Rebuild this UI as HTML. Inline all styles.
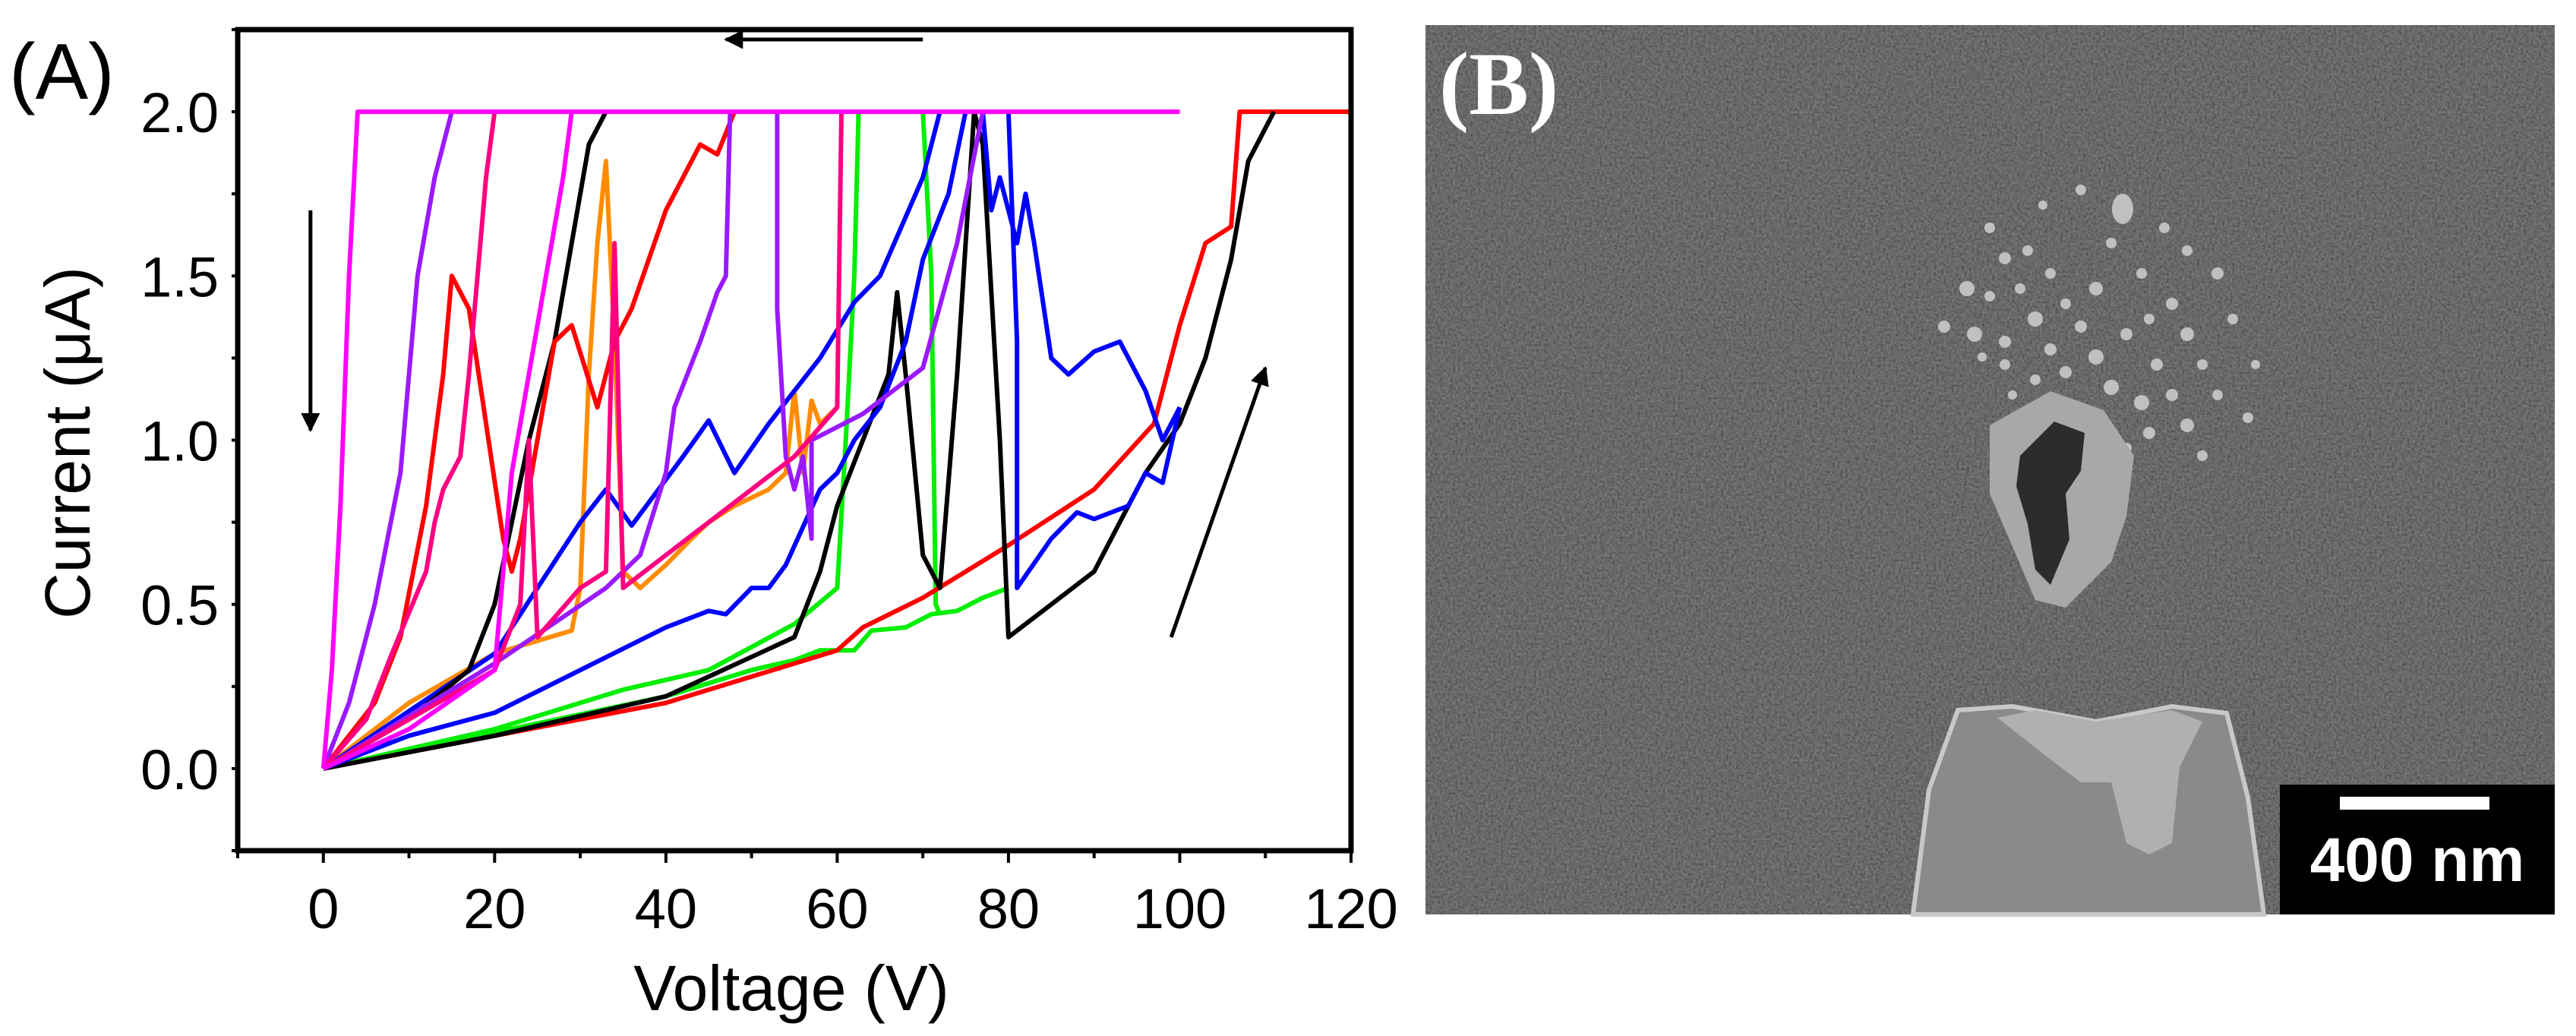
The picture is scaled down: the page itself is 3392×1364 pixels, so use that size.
<!DOCTYPE html>
<html><head><meta charset="utf-8"><style>
html,body{margin:0;padding:0;background:#fff;}
svg{display:block;}
text{font-family:"Liberation Sans",sans-serif;}
</style></head><body>
<svg id="fig" width="3392" height="1364" viewBox="0 0 3392 1364" xmlns="http://www.w3.org/2000/svg">
<defs>
<filter id="noise" x="0" y="0" width="100%" height="100%">
<feTurbulence type="fractalNoise" baseFrequency="0.3" numOctaves="2" seed="3" result="t"/>
<feColorMatrix in="t" type="matrix" values="0.7 0 0 0 0  0.7 0 0 0 0  0.7 0 0 0 0  0 0 0 0 0.45"/>
</filter>
<marker id="ah" viewBox="0 0 10 10" refX="9" refY="5" markerWidth="5" markerHeight="5" orient="auto"><path d="M0,0L10,5L0,10z" fill="#000"/></marker>
</defs>
<g id="panelA">
<text x="12" y="130" font-size="104">(A)</text>
<g id="plot"></g>
<g id="axes"></g>
<text x="1042" y="1330" font-size="84" text-anchor="middle">Voltage (V)</text>
<text transform="translate(118,583) rotate(-90)" font-size="84" text-anchor="middle">Current (μA)</text>
</g>
<g id="panelB">
<rect x="1877" y="33" width="1487" height="1171" fill="#3c3c3c"/>
<rect x="1877" y="33" width="1487" height="1171" fill="#fff" filter="url(#noise)"/>
<g id="dots"></g>
<path d="M2620,560 L2700,515 L2770,540 L2810,600 L2800,680 L2780,740 L2720,800 L2680,790 L2650,720 L2620,650 Z" fill="#a8a8a8"/>
<path d="M2660,600 L2705,555 L2745,570 L2740,620 L2720,650 L2725,710 L2700,770 L2680,750 L2670,690 L2655,640 Z" fill="#2c2c2c"/>
<path d="M2519,1204 L2540,1040 L2578,935 L2650,930 L2760,950 L2860,930 L2932,939 L2960,1050 L2981,1204 Z" fill="#8a8a8a" stroke="#c8c8c8" stroke-width="6"/>
<path d="M2630,945 L2700,1000 L2740,1030 L2780,1030 L2800,1110 L2830,1125 L2860,1110 L2870,1010 L2900,950 L2860,935 L2760,950 L2680,935 Z" fill="#b0b0b0"/>
<text x="1895" y="150" font-size="118" font-weight="bold" fill="#fff" style="font-family:'Liberation Serif',serif">(B)</text>
<rect x="3002" y="1033" width="362" height="171" fill="#000"/>
<rect x="3081" y="1049" width="197" height="17" fill="#fff"/>
<text x="3183" y="1160" font-size="82" font-weight="bold" fill="#fff" text-anchor="middle">400 nm</text>
</g>
</svg>
<script>
const xTicks=[0,20,40,60,80,100,120];
const yTicks=[0.0,0.5,1.0,1.5,2.0];
const yTickLabels=["0.0","0.5","1.0","1.5","2.0"];
const colors=["#ff00ff","#9a1aff","#ff0080","#ff0000","#000000","#0000ff","#00ee00","#ff8c00"];
const sMagenta=[[0,0],[1,0.3],[2,0.8],[3,1.5],[4,2.0],[100,2.0]];
const sPurple1=[[0,0],[3,0.2],[6,0.5],[9,0.9],[11,1.5],[13,1.8],[15,2.0]];
const sPurple2=[[0,0],[20,0.32],[33,0.55],[37,0.65],[40,0.9],[41,1.1],[44,1.3],[46,1.45],[47,1.5],[47.5,2.0]];
const sPurple3=[[53,2.0],[53,1.4],[54,0.95],[55,0.85],[56,0.95],[57,0.7],[57,1.0],[63,1.08],[70,1.22],[74,1.6],[77,2.0]];
const sMagenta2=[[0,0],[10,0.12],[20,0.3],[22,0.9],[24,1.2],[26,1.5],[28,1.8],[29,2.0]];
const sPink1=[[0,0],[5,0.15],[8,0.35],[12,0.6],[13,0.75],[14,0.85],[16,0.95],[17,1.2],[18,1.5],[19,1.8],[20,2.0]];
const sPink2=[[0,0],[20,0.3],[23,0.5],[24,1.0],[25,0.4],[30,0.55],[33,0.6],[34,1.6],[35,0.55],[45,0.75],[55,0.95],[60,1.1],[60.5,2.0]];
const sRed1=[[0,0],[6,0.2],[9,0.4],[12,0.8],[14,1.2],[15,1.5],[17,1.4],[21,0.7],[22,0.6],[23,0.7],[27,1.3],[29,1.35],[32,1.1],[34,1.3],[36,1.4],[40,1.7],[44,1.9],[46,1.87],[48,2.0]];
const sRed2=[[0,0],[20,0.1],[40,0.2],[60,0.36],[63,0.43],[70,0.52],[80,0.68],[90,0.85],[97,1.05],[100,1.35],[103,1.6],[106,1.65],[107,2.0],[120,2.0]];
const sBlack1=[[0,0],[10,0.15],[17,0.3],[20,0.5],[22,0.75],[24,1.0],[27,1.3],[29,1.6],[31,1.9],[33,2.0]];
const sBlack2=[[0,0],[20,0.1],[40,0.22],[55,0.4],[58,0.6],[60,0.8],[63,1.0],[66,1.2],[67,1.45],[68,1.2],[70,0.65],[72,0.55],[74,1.2],[76,2.0],[77,1.9],[79,1.0],[80,0.4],[85,0.5],[90,0.6],[93,0.75],[96,0.9],[100,1.05],[103,1.25],[106,1.55],[108,1.85],[111,2.0]];
const sBlue1=[[0,0],[10,0.1],[20,0.17],[30,0.3],[40,0.43],[45,0.48],[47,0.47],[50,0.55],[52,0.55],[54,0.62],[58,0.85],[60,0.9],[62,1.0],[65,1.1],[68,1.3],[70,1.55],[73,1.75],[75,2.0]];
const sBlue2=[[0,0],[20,0.35],[30,0.75],[33,0.85],[36,0.74],[42,0.95],[45,1.06],[48,0.9],[52,1.05],[58,1.25],[62,1.42],[65,1.5],[70,1.8],[72,2.0]];
const sBlue3=[[77,2.0],[78,1.7],[79,1.8],[81,1.6],[82,1.75],[83,1.6],[85,1.25],[87,1.2],[90,1.27],[93,1.3],[96,1.15],[98,1.0],[100,1.1]];
const sBlue4=[[80,2.0],[81,1.3],[81,0.55],[85,0.7],[88,0.78],[90,0.76],[94,0.8],[96,0.9],[98,0.87],[100,1.1]];
const sGreen1=[[0,0],[20,0.12],[35,0.24],[45,0.3],[55,0.44],[60,0.55],[61,1.0],[62,1.5],[62.5,2.0]];
const sGreen2=[[0,0],[40,0.22],[45,0.26],[50,0.3],[55,0.33],[58,0.36],[62,0.36],[64,0.42],[68,0.43],[71,0.47],[74,0.48],[77,0.52],[80,0.55]];
const sGreen3=[[70,2.0],[71,1.5],[71.5,0.5],[72,0.47]];
const sOrange=[[0,0],[10,0.2],[20,0.35],[29,0.42],[30,0.55],[31,1.2],[32,1.6],[33,1.85],[34,1.3],[35,0.6],[37,0.55],[40,0.62],[43,0.7],[45,0.75],[48,0.8],[52,0.85],[54,0.9],[55,1.15],[56,0.9],[57,1.12],[58,1.05],[60,1.1]];
const series=[[sOrange,7],[sGreen2,6],[sGreen1,6],[sGreen3,6],[sRed2,3],[sBlack2,4],[sBlue1,5],[sBlue2,5],[sBlue3,5],[sBlue4,5],[sBlack1,4],[sRed1,3],[sPurple1,1],[sPurple2,1],[sPurple3,1],[sPink1,2],[sPink2,2],[sMagenta2,0],[sMagenta,0]];
const X0=313,X1=1779,Y0=39,Y1=1120,xmin=-10,xmax=120,ymin=-0.25,ymax=2.25;
const xs=v=>X0+(v-xmin)/(xmax-xmin)*(X1-X0);
const ys=v=>Y1-(v-ymin)/(ymax-ymin)*(Y1-Y0);
const NS="http://www.w3.org/2000/svg";
const plot=document.getElementById('plot'),axes=document.getElementById('axes');
series.forEach((s,i)=>{
  const p=document.createElementNS(NS,'polyline');
  p.setAttribute('points',s[0].map(d=>xs(d[0]).toFixed(1)+','+ys(d[1]).toFixed(1)).join(' '));
  p.setAttribute('fill','none');p.setAttribute('stroke',colors[s[1]]);p.setAttribute('stroke-width','6');p.setAttribute('stroke-linejoin','round');
  
  
  plot.appendChild(p);
});
function arrow(a,b,name){
  const l=document.createElementNS(NS,'line');
  l.setAttribute('x1',xs(a[0]));l.setAttribute('y1',ys(a[1]));l.setAttribute('x2',xs(b[0]));l.setAttribute('y2',ys(b[1]));
  l.setAttribute('stroke','#000');l.setAttribute('stroke-width','5');l.setAttribute('marker-end','url(#ah)');
  
  
  plot.appendChild(l);
}
arrow([70,2.22],[47,2.22],'sweep-arrow-top');
arrow([-1.5,1.7],[-1.5,1.03],'sweep-arrow-left');
arrow([99,0.4],[110,1.22],'sweep-arrow-right');
const fr=document.createElementNS(NS,'rect');
fr.setAttribute('x',X0);fr.setAttribute('y',Y0);fr.setAttribute('width',X1-X0);fr.setAttribute('height',Y1-Y0);
fr.setAttribute('fill','none');fr.setAttribute('stroke','#000');fr.setAttribute('stroke-width','7');


axes.appendChild(fr);
for(let v=-10;v<=120;v+=10){
  const t=document.createElementNS(NS,'line');
  t.setAttribute('x1',xs(v));t.setAttribute('x2',xs(v));t.setAttribute('y1',Y1);t.setAttribute('y2',Y1+(v%20===0?16:10));
  t.setAttribute('stroke','#000');t.setAttribute('stroke-width','4');
  
  
  axes.appendChild(t);
}
xTicks.forEach(v=>{
  const t=document.createElementNS(NS,'text');
  t.setAttribute('x',xs(v));t.setAttribute('y',1222);t.setAttribute('font-size','74');t.setAttribute('text-anchor','middle');
  t.textContent=v;
  
  
  axes.appendChild(t);
});
for(let v=-0.25;v<=2.25;v+=0.25){
  const t=document.createElementNS(NS,'line');
  t.setAttribute('x1',X0);t.setAttribute('x2',X0-8);t.setAttribute('y1',ys(v));t.setAttribute('y2',ys(v));
  t.setAttribute('stroke','#000');t.setAttribute('stroke-width','4');
  
  
  axes.appendChild(t);
}
yTicks.forEach((v,i)=>{
  const t=document.createElementNS(NS,'text');
  t.setAttribute('x',288);t.setAttribute('y',ys(v)+27);t.setAttribute('font-size','74');t.setAttribute('text-anchor','end');
  t.textContent=yTickLabels[i];
  
  
  axes.appendChild(t);
});
const dotList=[[2795,275,14,20],[2620,300,7,7],[2640,340,8,8],[2670,330,7,7],[2590,380,10,10],[2620,390,7,7],[2560,430,8,8],[2600,440,10,10],[2640,450,8,8],[2680,420,10,10],[2700,460,8,8],[2720,400,7,7],[2740,430,8,8],[2760,470,10,10],[2800,440,8,8],[2830,420,7,7],[2860,400,8,8],[2880,440,9,9],[2900,480,7,7],[2840,480,8,8],[2780,510,10,10],[2820,530,10,10],[2860,520,8,8],[2880,560,9,9],[2830,570,8,8],[2800,590,7,7],[2760,560,7,7],[2920,360,8,8],[2880,330,7,7],[2850,300,7,7],[2940,420,7,7],[2700,360,7,7],[2660,380,7,7],[2720,490,8,8],[2680,500,7,7],[2640,480,7,7],[2920,520,7,7],[2900,600,7,7],[2960,550,7,7],[2740,250,7,7],[2690,270,6,6],[2780,320,7,7],[2820,360,7,7],[2760,380,9,9],[2650,520,6,6],[2610,470,6,6],[2970,480,6,6]];
dotList.forEach(d=>{
  const c=document.createElementNS(NS,'ellipse');
  c.setAttribute('cx',d[0]);c.setAttribute('cy',d[1]);c.setAttribute('rx',d[2]);c.setAttribute('ry',d[3]);c.setAttribute('fill','#c0c0c0');
  
  
  document.getElementById('dots').appendChild(c);
});
</script>
</body></html>
